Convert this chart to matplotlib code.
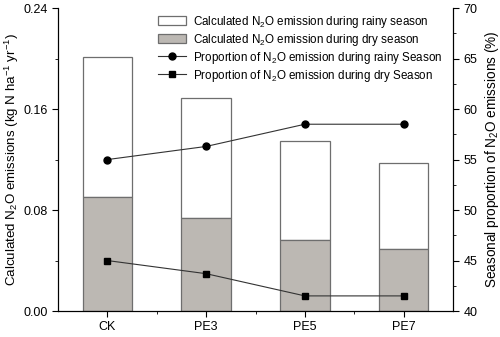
import matplotlib.pyplot as plt
import numpy as np

plt.rcParams['font.family'] = ['Liberation Sans', 'DejaVu Sans']
plt.rcParams['mathtext.fontset'] = 'custom'
plt.rcParams['mathtext.rm'] = 'Liberation Sans'
plt.rcParams['mathtext.it'] = 'Liberation Sans'
plt.rcParams['mathtext.default'] = 'regular'

treatments = ['CK', 'PE3', 'PE5', 'PE7']
dry_emission = [0.090, 0.074, 0.056, 0.049]
total_emission = [0.201, 0.169, 0.135, 0.117]
rainy_emission = [t - d for t, d in zip(total_emission, dry_emission)]
rainy_prop = [55.0, 56.3, 58.5, 58.5]
dry_prop = [45.0, 43.7, 41.5, 41.5]

fig = plt.figure(figsize=(5, 3.37), dpi=100)
ax = fig.add_axes([0.116, 0.077, 0.79, 0.899])
x = np.arange(len(treatments))

b1 = ax.bar(x, rainy_emission, 0.5, bottom=dry_emission, color='white', edgecolor='#6e6e6e', linewidth=0.9,
            label='Calculated N$_2$O emission during rainy season')
b2 = ax.bar(x, dry_emission, 0.5, color='#bcb8b3', edgecolor='#6e6e6e', linewidth=0.9,
            label='Calculated N$_2$O emission during dry season')
ax.set_xlim(-0.5, 3.5)
ax.set_ylim(0, 0.24)
ax.set_xticks(x)
ax.set_xticklabels(treatments)
ax.set_xticks([0.5, 1.5, 2.5], minor=True)
ax.set_yticks([0, 0.08, 0.16, 0.24])
ax.set_yticklabels(['0.00', '0.08', '0.16', '0.24'])
ax.set_yticks([0.04, 0.12, 0.20], minor=True)
ax.tick_params(axis='both', which='both', direction='out', labelsize=9, color='black')
ax.tick_params(axis='both', which='major', length=4)
ax.tick_params(axis='both', which='minor', length=2.5)
ax.set_ylabel('Calculated N$_2$O emissions (kg N ha$^{-1}$ yr$^{-1}$)', fontsize=9.6, labelpad=1.5)
ax.spines['top'].set_visible(False)

ax2 = ax.twinx()
l1, = ax2.plot(x, rainy_prop, color='#333333', linewidth=0.8, marker='o', markersize=5, markerfacecolor='black',
               markeredgecolor='black', label='Proportion of N$_2$O emission during rainy Season')
l2, = ax2.plot(x, dry_prop, color='#333333', linewidth=0.8, marker='s', markersize=5, markerfacecolor='black',
               markeredgecolor='black', label='Proportion of N$_2$O emission during dry Season')
ax2.set_ylim(40, 70)
ax2.set_yticks(np.arange(40, 71, 5))
ax2.set_yticks(np.arange(42.5, 70, 5), minor=True)
ax2.tick_params(axis='y', which='both', direction='out', labelsize=9)
ax2.tick_params(axis='y', which='major', length=4)
ax2.tick_params(axis='y', which='minor', length=2.5)
ax2.set_ylabel('Seasonal proportion of N$_2$O emissions (%)', fontsize=9.8, labelpad=4)
ax2.spines['top'].set_visible(False)

ax2.legend([b1, b2, l1, l2], [h.get_label() for h in [b1, b2, l1, l2]], frameon=False, fontsize=8.4,
           loc='upper right', bbox_to_anchor=(0.99, 1.005), handlelength=2.4, handletextpad=0.6,
           labelspacing=0.17, borderaxespad=0.2)

fig.savefig('out.png', dpi=100)
